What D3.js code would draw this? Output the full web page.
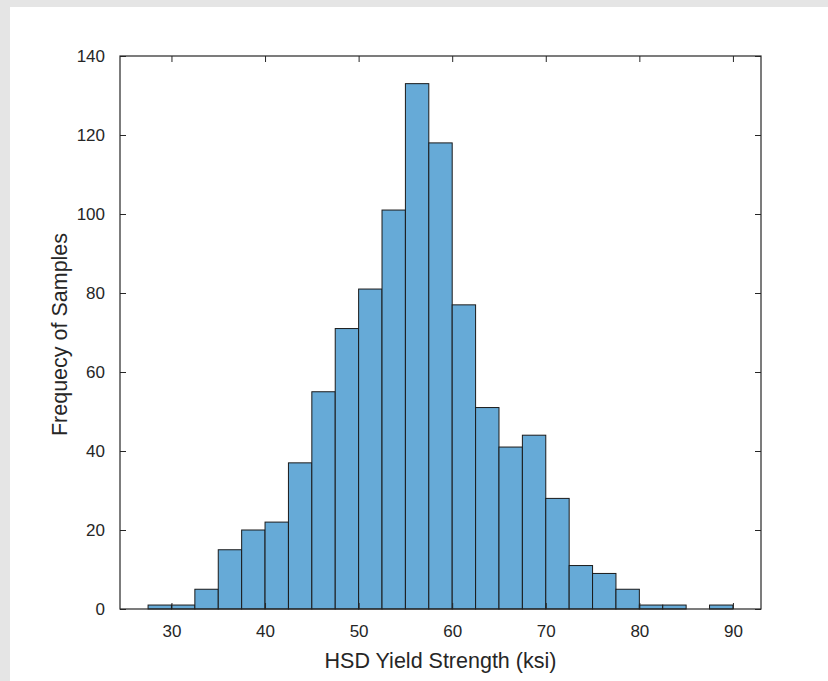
<!DOCTYPE html>
<html>
<head>
<meta charset="utf-8">
<script src="https://cdn.jsdelivr.net/npm/d3@7"></script>
<style>
  html, body { margin: 0; padding: 0; background: #e5e5e5; }
  svg { display: block; }
  text { font-family: "Liberation Sans", Arial, sans-serif; fill: #262626; }
</style>
</head>
<body>
<script>
// bin edges (ksi) and counts per bin
const binStart = [27.5, 30, 32.5, 35, 37.5, 40, 42.5, 45, 47.5, 50, 52.5, 55, 57.5,
                  60, 62.5, 65, 67.5, 70, 72.5, 75, 77.5, 80, 82.5, 85, 87.5];
const binWidth = 2.5;
const counts = [1, 1, 5, 15, 20, 22, 37, 55, 71, 81, 101, 133, 118,
                77, 51, 41, 44, 28, 11, 9, 5, 1, 1, 0, 1];
const xTicks = [30, 40, 50, 60, 70, 80, 90];
const yTicks = [0, 20, 40, 60, 80, 100, 120, 140];
const xLabel = 'HSD Yield Strength (ksi)';
const yLabel = 'Frequecy of Samples';

const W = 828, H = 681;
const plot = {left: 120, right: 761, top: 56, bottom: 609};

const svg = d3.select('body').append('svg')
    .attr('width', W).attr('height', H);

// figure background (grey border on top/left)
svg.append('rect').attr('x', 10).attr('y', 7)
    .attr('width', W - 10).attr('height', H - 7).attr('fill', '#fff');

const x = d3.scaleLinear().domain([24.5, 93]).range([plot.left, plot.right]);
const y = d3.scaleLinear().domain([0, 140]).range([plot.bottom, plot.top]);

// bars
svg.append('g').selectAll('rect')
    .data(counts.map((c, i) => ({x0: binStart[i], x1: binStart[i] + binWidth, c})))
    .join('rect')
    .filter(d => d.c > 0)
    .attr('x', d => x(d.x0))
    .attr('y', d => y(d.c))
    .attr('width', d => x(d.x1) - x(d.x0))
    .attr('height', d => y(0) - y(d.c))
    .attr('fill', '#66aad7')
    .attr('stroke', '#1a1a1a')
    .attr('stroke-width', 1);

// axes (ticks inward, mirrored on top/right)
const tl = 6;
const xAxisB = d3.axisBottom(x).tickValues(xTicks).tickSizeInner(-tl).tickSizeOuter(0).tickPadding(16);
const xAxisT = d3.axisTop(x).tickValues(xTicks).tickSizeInner(-tl).tickSizeOuter(0).tickFormat('');
const yAxisL = d3.axisLeft(y).tickValues(yTicks).tickSizeInner(-tl).tickSizeOuter(0).tickPadding(15);
const yAxisR = d3.axisRight(y).tickValues(yTicks).tickSizeInner(-tl).tickSizeOuter(0).tickFormat('');

const gB = svg.append('g').attr('transform', `translate(0,${plot.bottom})`).call(xAxisB);
const gT = svg.append('g').attr('transform', `translate(0,${plot.top})`).call(xAxisT);
const gL = svg.append('g').attr('transform', `translate(${plot.left},0)`).call(yAxisL);
const gR = svg.append('g').attr('transform', `translate(${plot.right},0)`).call(yAxisR);

[gB, gT, gL, gR].forEach(g => {
  g.select('.domain').remove();
  g.selectAll('line').attr('stroke', '#262626');
  g.selectAll('text').attr('font-size', 17).attr('fill', '#4d4d4d')
      .style('font-family', '"Liberation Sans", Arial, sans-serif');
});

// box
svg.append('rect')
    .attr('x', plot.left).attr('y', plot.top)
    .attr('width', plot.right - plot.left).attr('height', plot.bottom - plot.top)
    .attr('fill', 'none').attr('stroke', '#262626').attr('stroke-width', 1.2);

// axis labels
svg.append('text')
    .attr('x', (plot.left + plot.right) / 2).attr('y', 668)
    .attr('text-anchor', 'middle').attr('font-size', 21.5).attr('fill', '#333')
    .text(xLabel);

svg.append('text')
    .attr('transform', `translate(67,${(plot.top + plot.bottom) / 2 + 2}) rotate(-90)`)
    .attr('text-anchor', 'middle').attr('font-size', 21.5).attr('fill', '#333')
    .text(yLabel);
</script>
</body>
</html>
